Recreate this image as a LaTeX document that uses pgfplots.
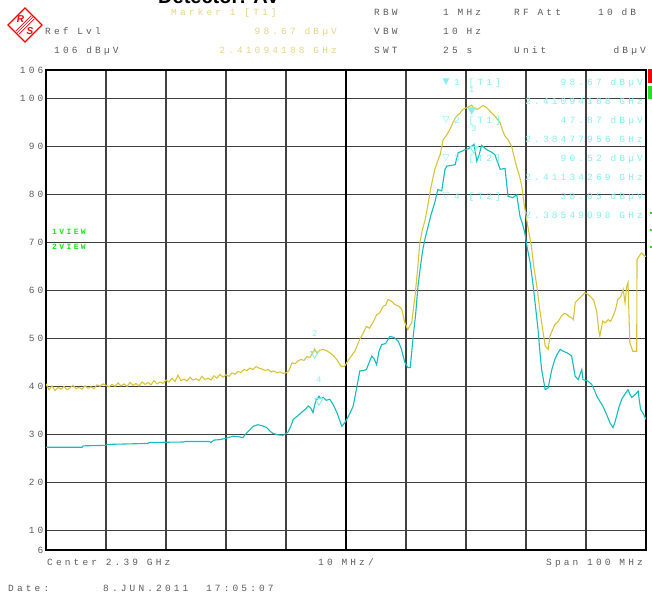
\documentclass[border=0pt]{standalone}
\usepackage{pgfplots}
\pgfplotsset{compat=1.18}
\usepackage{fontspec}
\setsansfont{Liberation Sans}
\newfontfamily\rs[LetterSpace=33]{Liberation Mono}
\newfontfamily\rsb[LetterSpace=30]{Liberation Mono}
\newfontfamily\dv{DejaVu Sans}
\newcommand{\rsf}{\rs\fontsize{9.5}{11}\selectfont}
\definecolor{textgray}{HTML}{5C5C5C}
\definecolor{ytext}{HTML}{E4D488}
\definecolor{ctext}{HTML}{86EEF0}
\definecolor{ytrace}{HTML}{D8C43A}
\definecolor{ctrace}{HTML}{14BCBE}
\definecolor{gridc}{HTML}{404040}
\definecolor{vgreen}{HTML}{22E022}

\pgfplotstableread{
f v
2340 40.6
2340.5 39.4
2341 40.2
2341.5 39.2
2342 39.9
2342.5 39.5
2343 40.1
2343.5 39.4
2344 39.8
2344.5 40.3
2345 39.6
2345.5 39.9
2346 39.5
2346.5 40.2
2347 39.7
2347.5 40.0
2348 39.6
2348.5 40.4
2349 40.1
2349.5 40.6
2350 40.3
2350.5 40.0
2351 40.5
2351.5 40.1
2352 40.8
2352.5 40.2
2353 40.6
2353.5 40.1
2354 40.9
2354.5 40.3
2355 40.7
2355.5 40.2
2356 41.0
2356.5 40.5
2357 40.9
2357.5 40.4
2358 41.3
2358.5 40.6
2359 41.0
2359.5 40.7
2360 41.4
2360.5 41.0
2361 41.8
2361.5 41.1
2362 42.4
2362.5 41.3
2363 41.6
2363.5 41.2
2364 42.0
2364.5 41.4
2365 41.7
2365.5 41.3
2366 42.2
2366.5 41.5
2367 41.8
2367.5 41.4
2368 42.3
2368.5 41.8
2369 42.6
2369.5 42.0
2370 42.5
2370.5 42.2
2371 42.9
2371.5 42.6
2372 43.2
2372.5 43.0
2373 43.6
2373.5 43.4
2374 43.9
2374.5 43.6
2375 44.2
2375.5 43.9
2376 43.7
2376.5 43.4
2377 43.6
2377.5 43.1
2378 43.3
2378.5 42.9
2379 43.1
2379.5 42.8
2380 42.9
2380.5 43.4
2381 45.0
2381.5 44.8
2382 45.4
2382.5 45.7
2383 45.5
2383.5 46.3
2384 46.1
2384.5 47.2
2384.78 47.87
2385.2 47.0
2385.6 47.6
2386.2 47.8
2386.8 47.5
2387.3 47.1
2387.9 46.5
2388.5 45.6
2389 44.6
2389.3 44.2
2389.8 44.3
2390.2 45.2
2390.7 46.1
2391.5 47.5
2392.3 49.9
2392.8 51.0
2393.4 52.6
2393.9 52.2
2394.5 53.4
2395.1 55.0
2395.6 55.4
2396.2 56.8
2396.6 57.0
2397 58.2
2397.6 57.8
2398.2 57.1
2398.8 56.8
2399.3 56.1
2399.8 53.4
2400.3 51.9
2400.95 53.4
2401.5 58.9
2401.9 64.0
2402.3 70.0
2402.7 72.5
2403.2 74.9
2403.6 77.5
2404 80.5
2404.4 83.0
2404.8 85.3
2405.2 86.8
2405.7 88.4
2406.2 91.5
2406.7 92.3
2407.3 93.6
2407.8 95.0
2408.4 96.4
2409 97.0
2409.5 97.8
2410.2 98.2
2410.94 98.67
2411.2 98.2
2411.8 97.8
2412.3 98.1
2412.8 98.6
2413.4 98.2
2414 97.4
2414.8 96.4
2415.7 95.0
2416.1 93.4
2416.5 92.2
2417 91.5
2417.6 90.1
2418 88.0
2418.4 86.0
2418.9 84.0
2419.3 81.8
2419.7 78.0
2420.1 74.9
2420.5 72.0
2420.9 69.3
2421.3 65.0
2421.8 61.0
2422.2 57.0
2422.6 53.4
2423.2 48.5
2423.7 47.8
2424 50.6
2424.4 51.8
2424.8 53.0
2425.3 53.5
2425.9 54.7
2426.4 55.3
2426.8 55.1
2427.2 54.6
2427.6 54.4
2427.9 54.0
2428.2 57.5
2428.7 58.2
2429.3 58.9
2429.8 59.6
2430.3 59.3
2430.9 58.6
2431.3 58.0
2431.8 55.5
2432.1 52.0
2432.3 50.6
2432.8 53.7
2433.2 53.3
2433.7 54.0
2434.1 53.6
2434.5 54.7
2434.9 56.0
2435.3 58.2
2435.8 58.8
2436.2 60.3
2436.5 57.5
2436.8 61.0
2437 61.7
2437.3 49.2
2437.8 47.4
2438.45 47.4
2438.5 66.5
2439 67.5
2439.3 67.9
2439.8 67.2
2440 67.2
}\traceone

\pgfplotstableread{
f v
2340 27.4
2346 27.4
2346.2 27.7
2350 27.8
2350.2 28.0
2357 28.2
2357.2 28.4
2363 28.5
2363.2 28.6
2367.2 28.6
2367.5 28.4
2368 28.9
2369 29.0
2370 29.3
2371.2 29.7
2372.1 29.6
2372.8 29.4
2373.3 30.2
2374 31.1
2374.6 31.8
2375.3 32.1
2376 31.9
2376.8 31.5
2377.3 30.8
2377.8 30.3
2378.6 30.0
2379.5 29.9
2380.3 30.5
2380.8 31.8
2381.2 33.2
2382 34.0
2382.8 34.9
2383.3 35.4
2383.7 36.0
2384.1 35.6
2384.5 34.6
2384.9 36.8
2385.49 38.05
2385.8 37.5
2386.2 37.8
2386.7 37.2
2387.3 37.4
2387.9 36.2
2388.5 34.6
2388.9 33.2
2389.3 31.8
2389.8 32.5
2390.2 33.4
2390.7 34.6
2391.2 36.0
2391.8 39.9
2392.3 43.3
2392.9 43.4
2393.4 43.6
2393.9 45.2
2394.3 46.4
2394.7 45.8
2395.1 44.6
2395.5 47.4
2395.95 48.8
2396.6 49.0
2397.3 50.5
2398 50.3
2398.7 49.5
2399.2 48.0
2399.8 45.1
2400.3 44.0
2400.7 44.0
2401.2 50.5
2401.6 55.0
2402 61.0
2402.4 65.0
2402.8 68.6
2403.2 71.0
2403.7 73.5
2404.2 76.0
2404.8 78.4
2405.3 81.1
2405.95 80.8
2406.5 85.3
2406.8 86.0
2407.5 86.1
2408.2 86.3
2408.7 88.8
2409.2 89.0
2409.8 89.4
2410.4 89.6
2410.95 90.1
2411.34 90.52
2411.8 87.0
2412.2 88.4
2412.6 90.3
2413.45 89.4
2414.1 89.0
2414.8 88.4
2415.2 87.0
2415.7 85.3
2416.5 85.5
2417.0 79.7
2417.8 79.4
2418.45 80.0
2419 75.5
2419.4 74.0
2419.8 72.1
2420.2 69.0
2420.7 65.8
2421.2 61.0
2421.6 56.5
2422 52.0
2422.3 47.5
2422.6 43.6
2423.2 39.4
2423.7 39.8
2424.3 43.6
2424.8 45.7
2425.2 46.8
2425.7 47.8
2426.2 47.4
2426.8 47.1
2427.2 46.8
2427.6 46.4
2428.2 42.2
2428.7 41.5
2429.3 43.6
2429.5 41.5
2430.3 41.2
2430.95 40.5
2431.4 39.3
2431.8 38.05
2432.3 37.0
2432.8 36.0
2433.4 34.3
2434 32.5
2434.5 31.5
2434.8 32.5
2435.1 33.9
2435.5 35.8
2435.95 37.4
2436.5 38.5
2437 39.4
2437.3 38.5
2437.6 37.8
2438.2 38.4
2438.7 39.1
2438.9 37.0
2439.1 35.3
2439.5 34.5
2440 33.2
}\tracetwo

\begin{document}
\begin{tikzpicture}
\useasboundingbox (0,0) rectangle (652pt,595pt);
\clip (0,0) rectangle (652pt,595pt);

\begin{axis}[
  at={(46pt,45pt)}, anchor=south west,
  width=600pt, height=480pt, scale only axis,
  xmin=2340, xmax=2440, ymin=6, ymax=106,
  xtick={2350,2360,...,2430}, xticklabels={},
  ytick={10,20,...,100}, extra y ticks={6,106},
  extra y tick style={grid=none},
  grid=major, major grid style={line width=1.2pt, color=gridc},
  major tick length=0pt,
  axis line style={line width=2.6pt, black},
  yticklabel style={font=\rsf, text=textgray, inner sep=0pt, xshift=-2.5pt},
  /pgf/number format/assume math mode=true,
]
\draw[black, line width=1.8pt] (axis cs:2390,6) -- (axis cs:2390,106);
\addplot[ytrace, line width=1.1pt] table[x=f, y=v] {\traceone};
\addplot[ctrace, line width=1.1pt] table[x=f, y=v] {\tracetwo};
% markers
\addplot[only marks, mark=triangle*, mark size=4.6pt, ctext,
  mark options={yshift=-4.6pt, rotate=180, fill=ctext, draw=ctext}]
  coordinates {(2410.94,98.67)};
\addplot[only marks, mark=triangle, mark size=4.6pt, ctext,
  mark options={yshift=-4.6pt, rotate=180, draw=ctext, line width=0.9pt}]
  coordinates {(2384.78,47.87) (2411.34,90.52) (2385.49,38.05)};
\node[ctext, font=\rs\fontsize{8.5}{9}\selectfont, inner sep=0pt] at (axis cs:2410.94,98.67) [yshift=15pt] {1};
\node[ctext, font=\rs\fontsize{8.5}{9}\selectfont, inner sep=0pt] at (axis cs:2384.78,47.87) [yshift=15.5pt] {2};
\node[ctext, font=\rs\fontsize{8.5}{9}\selectfont, inner sep=0pt] at (axis cs:2411.34,90.52) [yshift=15.5pt] {3};
\node[ctext, font=\rs\fontsize{8.5}{9}\selectfont, inner sep=0pt] at (axis cs:2385.49,38.05) [yshift=16.5pt] {4};
\end{axis}

\begin{scope}[x=1pt, y=-1pt, yshift=595pt, every node/.style={inner sep=0pt}]
% cut-off title
\node[anchor=base west, font=\sffamily\bfseries\fontsize{20}{20}\selectfont] at (158,3.5) {Detector: AV};
% logo
\begin{scope}[shift={(25,25)}]
  \draw[red, line width=1.3pt] (0,-17) -- (17,0) -- (0,17) -- (-17,0) -- cycle;
  \foreach \o in {-2.2,0,2.2} {
    \draw[red, line width=0.7pt] ({(-11+\o)/1.4142*1.0}, {(11+\o)/1.4142}) -- ({(11+\o)/1.4142}, {(-11+\o)/1.4142});
  }
  \node[red, font=\sffamily\bfseries\itshape\fontsize{10}{10}\selectfont] at (-4.5,-6) {R};
  \node[red, font=\sffamily\bfseries\itshape\fontsize{10}{10}\selectfont] at (5,6.5) {S};
\end{scope}
% header
\node[anchor=mid west, ytext, font=\rsf] at (171,13) {Marker 1 [T1]};
\node[anchor=mid east, ytext, font=\rsf] at (337,32) {98.67 dBµV};
\node[anchor=mid east, ytext, font=\rsf] at (337,51) {2.41094188 GHz};
\node[anchor=mid west, textgray, font=\rsf] at (45,32) {Ref Lvl};
\node[anchor=mid west, textgray, font=\rsf] at (54,51) {106 dBµV};
\node[anchor=mid west, textgray, font=\rsf] at (374,13) {RBW};
\node[anchor=mid west, textgray, font=\rsf] at (374,32) {VBW};
\node[anchor=mid west, textgray, font=\rsf] at (374,51) {SWT};
\node[anchor=mid west, textgray, font=\rsf] at (443,13) {1 MHz};
\node[anchor=mid west, textgray, font=\rsf] at (443,32) {10 Hz};
\node[anchor=mid west, textgray, font=\rsf] at (443,51) {25 s};
\node[anchor=mid west, textgray, font=\rsf] at (514,13) {RF Att};
\node[anchor=mid west, textgray, font=\rsf] at (598,13) {10 dB};
\node[anchor=mid west, textgray, font=\rsf] at (514,51) {Unit};
\node[anchor=mid east, textgray, font=\rsf] at (646,51) {dBµV};
% bottom
\node[anchor=mid west, textgray, font=\rsf] at (47,563) {Center 2.39 GHz};
\node[anchor=mid west, textgray, font=\rsf] at (318,563) {10 MHz/};
\node[anchor=mid east, textgray, font=\rsf] at (643,563) {Span 100 MHz};
\node[anchor=mid west, textgray, font=\rsf] at (8,589) {Date:};
\node[anchor=mid west, textgray, font=\rsf] at (103,589) {8.JUN.2011\ \ 17:05:07};
% view labels
\node[anchor=mid west, vgreen, font=\rsb\bfseries\fontsize{8}{9}\selectfont] at (52,232) {1VIEW};
\node[anchor=mid west, vgreen, font=\rsb\bfseries\fontsize{8}{9}\selectfont] at (52,247) {2VIEW};
% right bars
\fill[red] (648,69) rectangle (652,83);
\fill[vgreen] (648,86) rectangle (652,99);
\fill[vgreen] (649.5,212) rectangle (652,214);
\fill[vgreen] (649.5,229) rectangle (652,231);
\fill[vgreen] (649.5,246) rectangle (652,248);
% marker panel
\node[ctext, font=\dv\fontsize{9}{9}\selectfont] at (446,82) {▼};
\node[ctext, font=\dv\fontsize{9}{9}\selectfont] at (446,120) {▽};
\node[ctext, font=\dv\fontsize{9}{9}\selectfont] at (446,158) {▽};
\node[ctext, font=\dv\fontsize{9}{9}\selectfont] at (446,196) {▽};
\node[anchor=mid west, ctext, font=\rsf] at (454,83) {1 [T1]};
\node[anchor=mid west, ctext, font=\rsf] at (454,121) {2 [T1]};
\node[anchor=mid west, ctext, font=\rsf] at (454,159) {3 [T2]};
\node[anchor=mid west, ctext, font=\rsf] at (454,197) {4 [T2]};
\node[anchor=mid east, ctext, font=\rsf] at (643,83) {98.67 dBµV};
\node[anchor=mid east, ctext, font=\rsf] at (643,102) {2.41094188 GHz};
\node[anchor=mid east, ctext, font=\rsf] at (643,121) {47.87 dBµV};
\node[anchor=mid east, ctext, font=\rsf] at (643,140) {2.38477956 GHz};
\node[anchor=mid east, ctext, font=\rsf] at (643,159) {90.52 dBµV};
\node[anchor=mid east, ctext, font=\rsf] at (643,178) {2.41134269 GHz};
\node[anchor=mid east, ctext, font=\rsf] at (643,197) {38.05 dBµV};
\node[anchor=mid east, ctext, font=\rsf] at (643,216) {2.38549098 GHz};
\end{scope}
\end{tikzpicture}
\end{document}
